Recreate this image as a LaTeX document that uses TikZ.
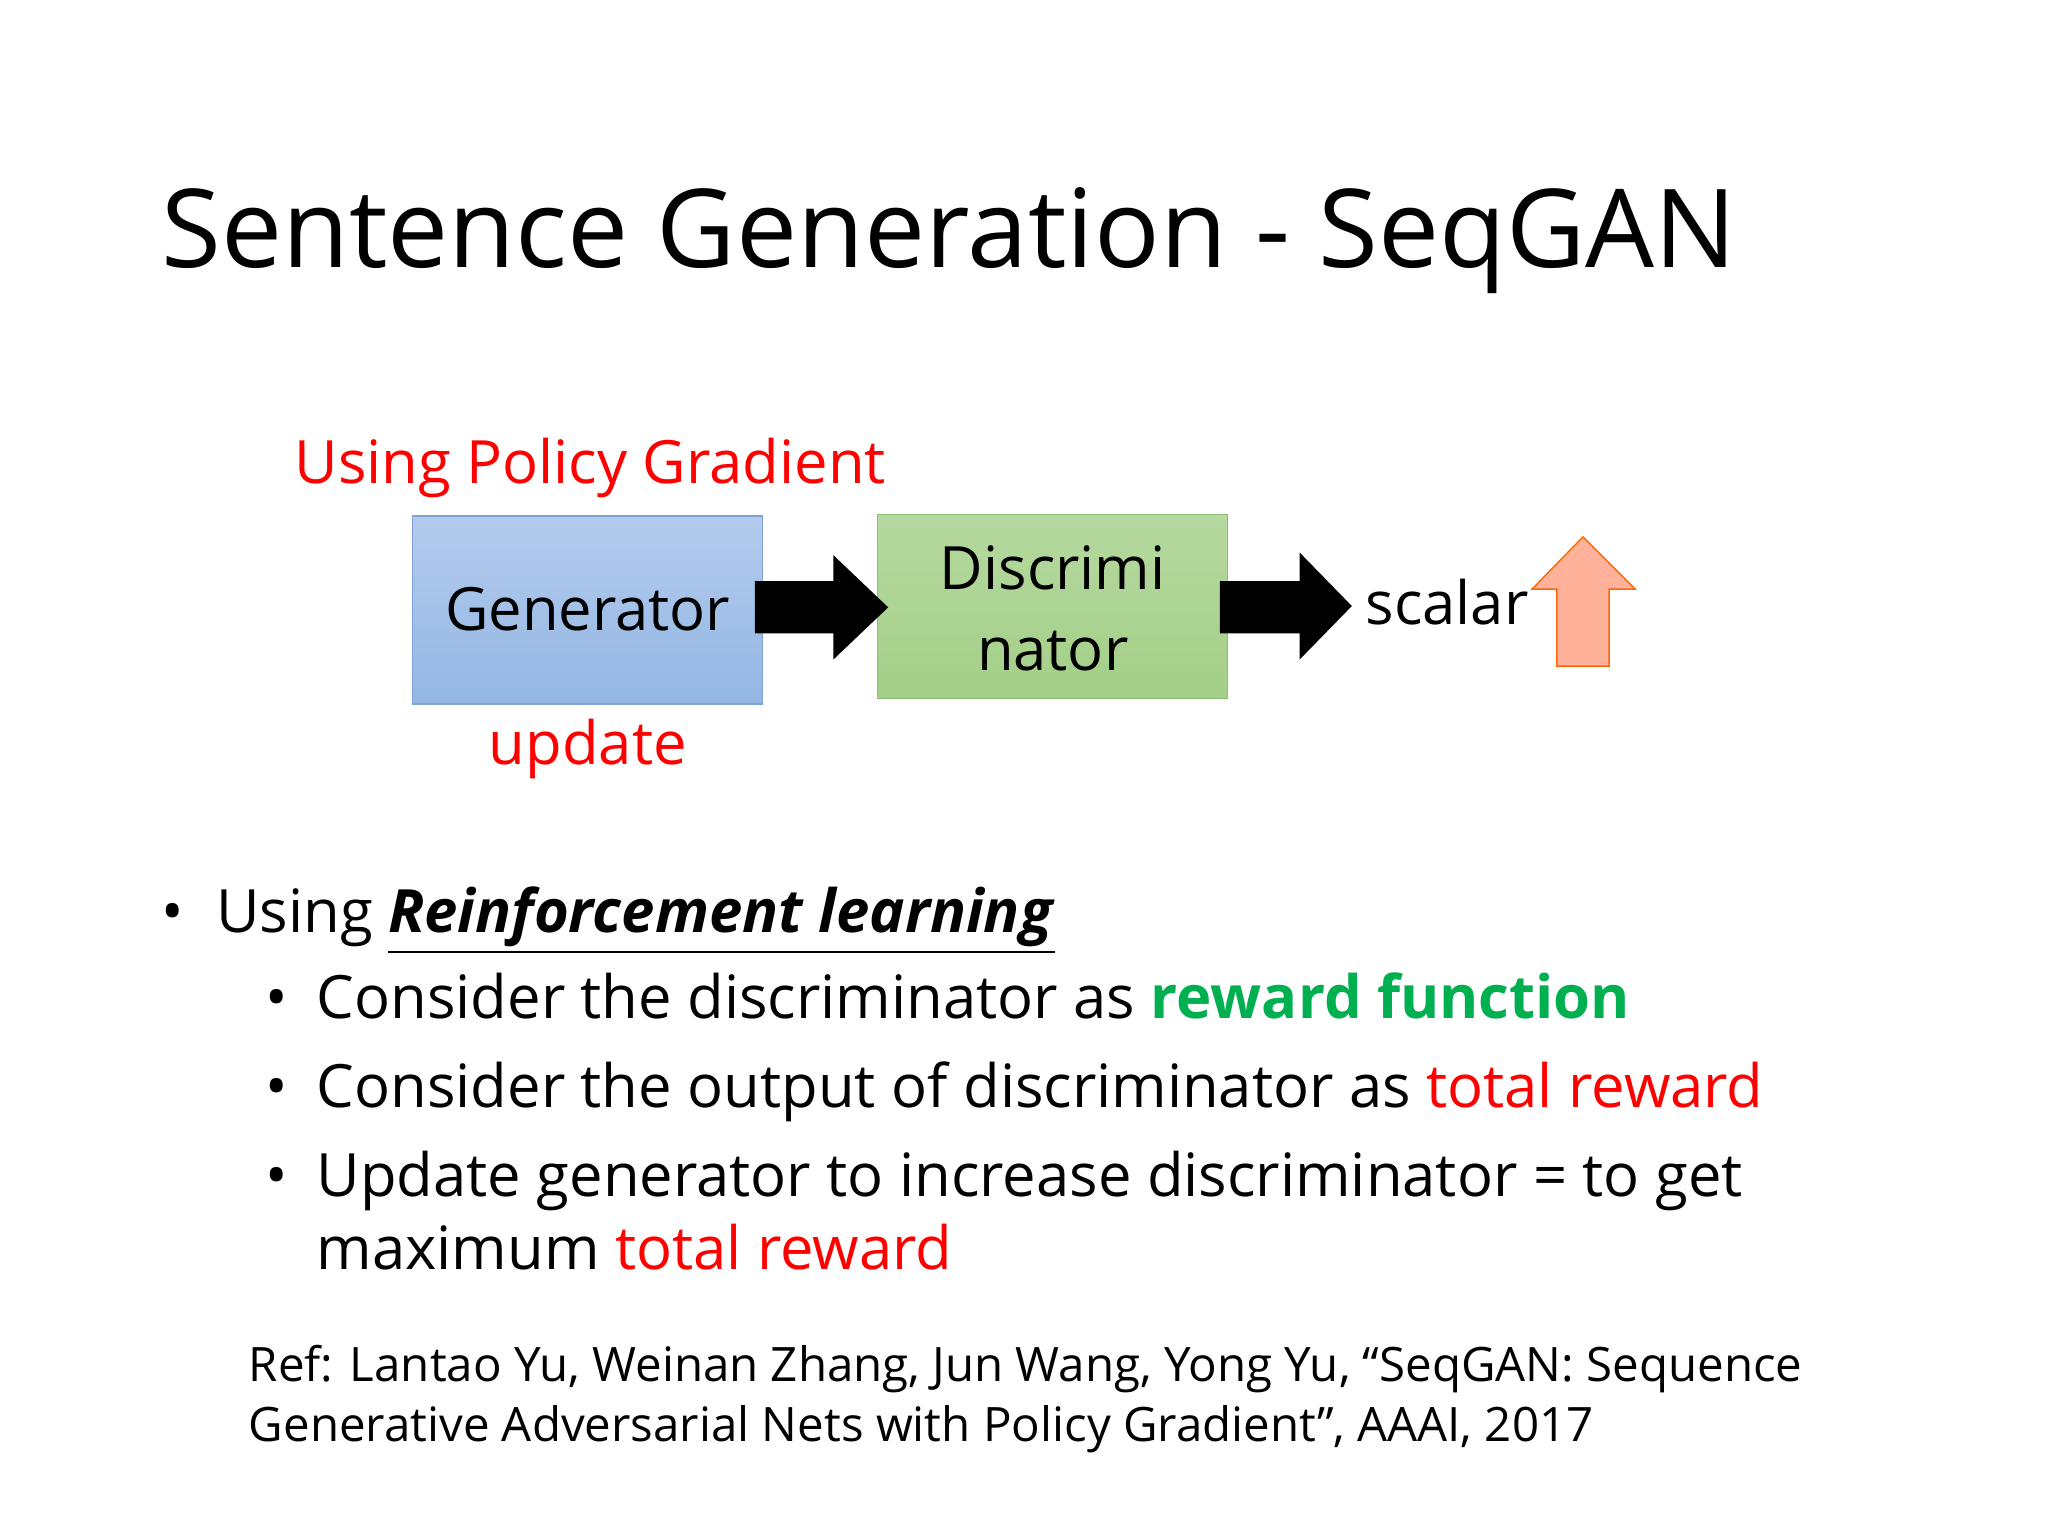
\documentclass[tikz,border=0pt]{standalone}
\usepackage{fontspec}
\setmainfont{Open Sans}
\definecolor{myred}{HTML}{FF0000}
\definecolor{mygreen}{HTML}{00B050}
\definecolor{gtop}{HTML}{B4CBEC}
\definecolor{gbot}{HTML}{93B7E4}
\definecolor{gbrd}{HTML}{7FA3D6}
\definecolor{dtop}{HTML}{B5D9A0}
\definecolor{dbot}{HTML}{A3CF87}
\definecolor{dbrd}{HTML}{8CC070}
\begin{document}
\begin{tikzpicture}[x=0.013061cm,y=-0.013061cm,
  txt/.style={anchor=base west,inner sep=0pt,font=\fontsize{17}{20}\selectfont}]
\useasboundingbox (0,0) rectangle (1568,1176);
\node[txt,font=\fontsize{31}{36}\selectfont] (title) at (123,205) {Sentence Generation - SeqGAN};
\node[txt,text=myred] (upg) at (225,370) {Using Policy Gradient};
\draw[draw=gbrd,top color=gtop,bottom color=gbot] (316,395) rectangle (584,539);
\node[txt,anchor=base] (gen) at (450,483) {Generator};
\draw[draw=dbrd,top color=dtop,bottom color=dbot] (672,394) rectangle (940,535);
\node[txt,anchor=base] (d1) at (806,451) {Discrimi};
\node[txt,anchor=base] (d2) at (806,513) {nator};
\node[txt,text=myred,anchor=base] (upd) at (450,585) {update};
\fill[black] (578,445) -- (638,445) -- (638,425) -- (680,465) -- (638,505) -- (638,485) -- (578,485) -- cycle;
\fill[black] (934,445) -- (995,445) -- (995,423) -- (1035,464) -- (995,505) -- (995,485) -- (934,485) -- cycle;
\node[txt] (sc) at (1045,478) {scalar};
\draw[draw=orange!80!red,fill=orange!50!red!40!white] (1212,411) -- (1252,451) -- (1232,451) -- (1232,510) -- (1192,510) -- (1192,451) -- (1173,451) -- cycle;
\node[txt] (b0) at (123,714) {•};
\node[txt] (l0) at (165,714) {Using \underline{\textbf{\textit{Reinforcement learning}}}};
\node[txt] (b1) at (203,780) {•};
\node[txt] (l1) at (242,780) {Consider the discriminator as \textcolor{mygreen}{\textbf{reward function}}};
\node[txt] (b2) at (203,848) {•};
\node[txt] (l2) at (242,848) {Consider the output of discriminator as \textcolor{myred}{total reward}};
\node[txt] (b3) at (203,916) {•};
\node[txt] (l3) at (242,916) {Update generator to increase discriminator = to get};
\node[txt] (l4) at (242,972) {maximum \textcolor{myred}{total reward}};
\node[txt,font=\fontsize{13.5}{16}\selectfont] (r1) at (190,1058) {Ref: Lantao Yu, Weinan Zhang, Jun Wang, Yong Yu, “SeqGAN: Sequence};
\node[txt,font=\fontsize{13.5}{16}\selectfont] (r2) at (190,1104) {Generative Adversarial Nets with Policy Gradient”, AAAI, 2017};
\end{tikzpicture}
\end{document}
